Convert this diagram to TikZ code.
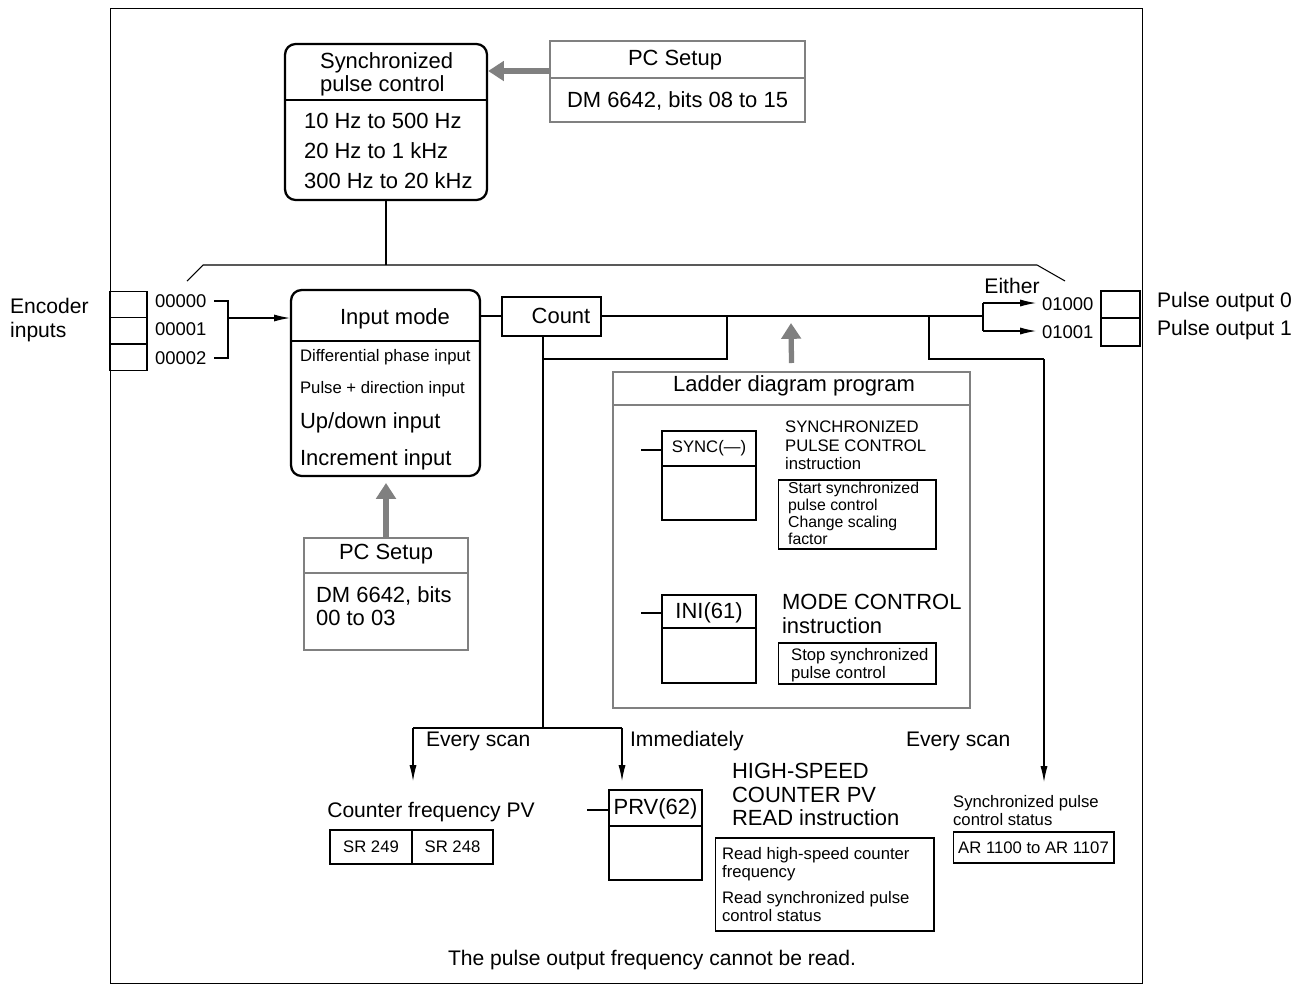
\documentclass[tikz,border=0pt]{standalone}
\usepackage{fontspec}
\setmainfont{Liberation Sans}
\usetikzlibrary{arrows.meta,positioning,calc}
\definecolor{setupgray}{RGB}{128,128,128}

\begin{document}
\begin{tikzpicture}[
    x=0.02cm, y=-0.02cm,
    box/.style={draw, line width=0.6pt, inner sep=0pt},
    gbox/.style={draw=setupgray, line width=1.3pt, inner sep=0pt},
    rbox/.style={draw, line width=1.3pt, rounded corners=6pt, inner sep=0pt},
    bigf/.style={font=\fontsize{12.5}{13.5}\selectfont, inner sep=1pt},
    midf/.style={font=\fontsize{12}{13.5}\selectfont, inner sep=1pt},
    codef/.style={font=\fontsize{10.5}{12}\selectfont, inner sep=1pt},
    smallf/.style={font=\fontsize{9.5}{10.5}\selectfont, inner sep=1pt},
    line/.style={line width=0.6pt},
    arr/.style={line width=0.6pt, -{Latex[length=9pt,width=4pt]}},
    garr/.style={setupgray, line width=3pt, -{Triangle[length=9pt,width=11pt]}}
]
\useasboundingbox (0,0) rectangle (1300,987);

% Outer frame
\node[box, minimum width=20.66cm, minimum height=19.52cm] (frame) at (626.5,496) {};

% Synchronized pulse control
\node[rbox, minimum width=4.04cm, minimum height=3.12cm] (sync) at (386,122) {};
\draw[line width=1.3pt] (285,100) -- (487,100);
\node[bigf, align=left, anchor=north west] (synct) at (318,50) {Synchronized\\pulse control};
\node[bigf, anchor=west] (syncf1) at (302,121) {10 Hz to 500 Hz};
\node[bigf, anchor=west] (syncf2) at (302,151) {20 Hz to 1 kHz};
\node[bigf, anchor=west] (syncf3) at (302,181) {300 Hz to 20 kHz};

% PC Setup (top)
\node[gbox, minimum width=5.1cm, minimum height=1.62cm] (setupa) at (677.5,81.5) {};
\draw[setupgray, line width=1.3pt] (550,78) -- (805,78);
\node[bigf] (setupat) at (675,60) {PC Setup};
\node[bigf] (setupav) at (677.5,101) {DM 6642, bits 08 to 15};
\draw[garr] (setupa.west |- 0,71) -- (sync.east |- 0,71);

% Bus line
\coordinate (busl) at (203,265);
\coordinate (busr) at (1037,265);
\draw[line] (sync.south) -- (sync.south |- busl);
\draw[line] (187,281) -- (busl) -- (busr) -- (1065,281);

% Encoder inputs
\foreach \n/\y in {0/304.5,1/331,2/357} {
  \node[box, minimum width=0.74cm, minimum height=0.53cm] (enc\n) at (128.5,\y) {};
}
\node[midf, align=left, anchor=west] (enct) at (8,320) {Encoder\\inputs};
\node[codef, anchor=west] (b0) at (153,301) {00000};
\node[codef, anchor=west] (b1) at (153,329) {00001};
\node[codef, anchor=west] (b2) at (153,358) {00002};
\coordinate (brk) at (228,318);
\draw[line] (214,301) -- (228,301) -- (228,358) -- (214,358);

% Input mode
\node[rbox, minimum width=3.78cm, minimum height=3.72cm] (inmode) at (385.5,383) {};
\draw[line width=1.3pt] (291,341) -- (480,341);
\node[bigf] (inmodet) at (395,319) {Input mode};
\node[smallf, anchor=west] (m1) at (298,357) {Differential phase input};
\node[smallf, anchor=west] (m2) at (298,389) {Pulse + direction input};
\node[bigf, anchor=west] (m3) at (298,423) {Up/down input};
\node[bigf, anchor=west] (m4) at (298,460) {Increment input};
\draw[arr] (brk) -- (inmode.west |- brk);

% PC Setup (bottom)
\node[gbox, minimum width=3.28cm, minimum height=2.24cm] (setupb) at (386,594) {};
\draw[setupgray, line width=1.3pt] (304,573) -- (468,573);
\node[bigf] (setupbt) at (386,554) {PC Setup};
\node[bigf, align=left, anchor=north west] (setupbv) at (314,584) {DM 6642, bits\\00 to 03};
\draw[garr] (setupb.north) -- (386,483);

% Count
\node[box, minimum width=1.98cm, minimum height=0.78cm] (count) at (551.5,316.5) {};
\node[bigf] (countt) at (561,316) {Count};
\draw[line] (inmode.east |- 0,316) -- (count.west |- 0,316);

% Outputs
\coordinate (fork) at (983,316);
\node[codef, anchor=west] (o0) at (1040,304) {01000};
\node[codef, anchor=west] (o1) at (1040,332) {01001};
\node[box, minimum width=0.78cm, minimum height=0.54cm] (ob0) at (1120.5,304.5) {};
\node[box, minimum width=0.78cm, minimum height=0.56cm] (ob1) at (1120.5,332) {};
\node[midf, anchor=west] (po0) at (1155,302) {Pulse output 0};
\node[midf, anchor=west] (po1) at (1155,330) {Pulse output 1};
\node[midf] (either) at (1012,286) {Either};
\draw[line] (count.east |- fork) -- (fork);
\draw[arr] (983,303) -- (1036,303);
\draw[arr] (983,331) -- (1036,331);
\draw[line] (983,303) -- (983,331);

% Ladder diagram program
\node[gbox, minimum width=7.14cm, minimum height=6.72cm] (ladder) at (791.5,540) {};
\draw[setupgray, line width=1.3pt] (613,405) -- (970,405);
\node[bigf] (laddert) at (794,386) {Ladder diagram program};
\draw[garr] (ladder.north |- 0,363) -- (791,323);
\draw[line] (727,316) -- (727,359) -- (543,359);
\draw[line] (929,316) -- (929,359) -- (1044,359);

% SYNC instruction
\node[box, minimum width=1.88cm, minimum height=1.78cm] (syncb) at (709,475.5) {};
\draw[line] (662,466) -- (756,466);
\node[smallf] (synci) at (709,448) {SYNC(---)};
\draw[line] (641,450) -- (syncb.west |- 0,450);
\node[smallf, align=left, anchor=north west] (syncd) at (783,419) {SYNCHRONIZED\\PULSE CONTROL\\instruction};
\node[box, minimum width=3.16cm, minimum height=1.38cm] (syncn) at (857,514.5) {};
\node[align=left, anchor=north west, inner sep=1pt, font=\fontsize{9}{9.6}\selectfont] (syncnt) at (786,480) {Start synchronized\\pulse control\\Change scaling\\factor};

% INI instruction
\node[box, minimum width=1.88cm, minimum height=1.76cm] (inib) at (709,639) {};
\draw[line] (662,628) -- (756,628);
\node[bigf] (inii) at (709,613) {INI(61)};
\draw[line] (641,613) -- (inib.west |- 0,613);
\node[bigf, align=left, anchor=north west] (inid) at (780,592) {MODE CONTROL\\instruction};
\node[box, minimum width=3.16cm, minimum height=0.82cm] (inin) at (857,663.5) {};
\node[smallf, align=left, anchor=north west] (ininit) at (789,646) {Stop synchronized\\pulse control};

% Counter frequency PV
\coordinate (split) at (543,728);
\draw[line] (count.south -| split) -- (split);
\draw[line] (413,728) -- (622,728);
\draw[arr] (413,728) -- (413,781);
\draw[arr] (622,728) -- (622,781);
\node[midf, anchor=west] (es1) at (424,741) {Every scan};
\node[midf, anchor=west] (imm) at (628,741) {Immediately};
\node[midf] (cfpv) at (431,812) {Counter frequency PV};
\node[box, minimum width=1.64cm, minimum height=0.68cm] (sr249) at (371,847) {};
\node[box, minimum width=1.62cm, minimum height=0.68cm] (sr248) at (452.5,847) {};
\node[smallf] at (sr249) {SR 249};
\node[smallf] at (sr248) {SR 248};

% PRV instruction
\node[box, minimum width=1.86cm, minimum height=1.8cm] (prvb) at (655.5,835) {};
\draw[line] (609,826) -- (702,826);
\node[bigf] (prvi) at (655.5,809) {PRV(62)};
\draw[line] (587,810) -- (prvb.west |- 0,810);
\node[bigf, align=left, anchor=north west] (prvd) at (730,761) {HIGH-SPEED\\COUNTER PV\\READ instruction};
\node[box, minimum width=4.38cm, minimum height=1.86cm] (prvn) at (824.5,884.5) {};
\node[smallf, align=left, anchor=north west] (prvnt) at (720,845) {Read high-speed counter\\frequency\\[4pt]Read synchronized pulse\\control status};

% Synchronized pulse control status
\draw[arr] (1044,359) -- (1044,782);
\node[midf, anchor=west] (es2) at (904,741) {Every scan};
\node[smallf, align=left, anchor=north west] (stat) at (951,793) {Synchronized pulse\\control status};
\node[box, minimum width=3.22cm, minimum height=0.62cm] (statb) at (1033.5,847.5) {};
\node[smallf] at (statb) {AR 1100 to AR 1107};

% Note
\node[midf] (note) at (652,960) {The pulse output frequency cannot be read.};

\end{tikzpicture}
\end{document}
